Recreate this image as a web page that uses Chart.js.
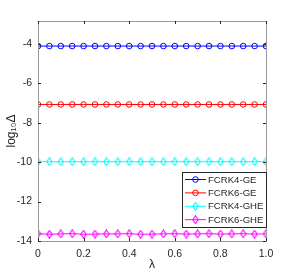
<!DOCTYPE html>
<html>
<head>
<meta charset="utf-8">
<script src="https://cdn.jsdelivr.net/npm/chart.js"></script>
<style>
  html, body { margin: 0; padding: 0; background: #fff; }
  #wrap { width: 295px; height: 276px; }
</style>
</head>
<body>
<div id="wrap"><canvas id="myChart" width="295" height="276"></canvas></div>
<script>
const lambdas = [0, 0.05, 0.1, 0.15, 0.2, 0.25, 0.3, 0.35, 0.4, 0.45, 0.5, 0.55, 0.6, 0.65, 0.7, 0.75, 0.8, 0.85, 0.9, 0.95, 1];
const rk4ge = [-4.12, -4.12, -4.12, -4.12, -4.12, -4.12, -4.12, -4.12, -4.12, -4.12, -4.12, -4.12, -4.12, -4.12, -4.12, -4.12, -4.12, -4.12, -4.12, -4.12, -4.12];
const rk6ge = [-7.08, -7.08, -7.08, -7.08, -7.08, -7.08, -7.08, -7.08, -7.08, -7.08, -7.08, -7.08, -7.08, -7.08, -7.08, -7.08, -7.08, -7.08, -7.08, -7.08, -7.08];
const rk4ghe = [-9.98, -9.98, -9.98, -9.98, -9.98, -9.98, -9.98, -9.98, -9.98, -9.98, -9.98, -9.98, -9.98, -9.98, -9.98, -9.98, -9.98, -9.98, -9.98, -9.98, -9.98];
const rk6ghe = [-13.63, -13.66, -13.64, -13.63, -13.66, -13.65, -13.64, -13.64, -13.63, -13.66, -13.65, -13.64, -13.63, -13.65, -13.64, -13.63, -13.65, -13.64, -13.63, -13.65, -13.64];
const seriesNames = ["FCRK4-GE", "FCRK6-GE", "FCRK4-GHE", "FCRK6-GHE"];
const xTicks = [0, 0.2, 0.4, 0.6, 0.8, 1];
const yTicks = [-14, -12, -10, -8, -6, -4];

const colors = ["#0000ff", "#ff0000", "#00ffff", "#ff00ff"];
const allSeries = [rk4ge, rk6ge, rk4ghe, rk6ghe];
const font = "Liberation Sans, Arial, sans-serif";

// narrow matlab-like diamond marker
const diamond = (color) => {
  const c = document.createElement("canvas");
  c.width = 7; c.height = 9;
  const g = c.getContext("2d");
  g.strokeStyle = color;
  g.lineWidth = 1.1;
  g.beginPath();
  g.moveTo(3.5, 0.7); g.lineTo(6.2, 4.5); g.lineTo(3.5, 8.3); g.lineTo(0.8, 4.5);
  g.closePath();
  g.stroke();
  return c;
};
const markers = ["circle", "circle", diamond(colors[2]), diamond(colors[3])];

const datasets = allSeries.map((vals, i) => ({
  label: seriesNames[i],
  data: vals.map((v, j) => ({ x: lambdas[j], y: v })),
  borderColor: colors[i],
  backgroundColor: "rgba(0,0,0,0)",
  borderWidth: 1,
  pointStyle: markers[i],
  pointRadius: 2.8,
  pointBorderWidth: 1,
  pointBorderColor: colors[i],
  pointBackgroundColor: "rgba(0,0,0,0)",
}));

// box, inward ticks and legend drawn on top
const boxPlugin = {
  id: "box",
  afterDraw(chart) {
    const { ctx, chartArea: a, scales } = chart;
    ctx.save();
    ctx.strokeStyle = "#9a9a9a";
    ctx.lineWidth = 1;
    ctx.strokeRect(a.left + 0.5, a.top + 0.5, a.right - a.left, a.bottom - a.top);
    ctx.strokeStyle = "#262626";
    ctx.beginPath();
    xTicks.forEach((t) => {
      const x = Math.round(scales.x.getPixelForValue(t)) + 0.5;
      ctx.moveTo(x, a.bottom); ctx.lineTo(x, a.bottom - 3);
      ctx.moveTo(x, a.top); ctx.lineTo(x, a.top + 3);
    });
    yTicks.forEach((t) => {
      const y = Math.round(scales.y.getPixelForValue(t)) + 0.5;
      ctx.moveTo(a.left, y); ctx.lineTo(a.left + 3, y);
      ctx.moveTo(a.right, y); ctx.lineTo(a.right - 3, y);
    });
    ctx.stroke();

    // legend
    const lx = 182, ly = 172, lw = 84, lh = 55;
    ctx.fillStyle = "#fff";
    ctx.fillRect(lx, ly, lw, lh);
    ctx.strokeStyle = "#262626";
    ctx.strokeRect(lx + 0.5, ly + 0.5, lw, lh);
    ctx.font = "9.6px " + font;
    ctx.textBaseline = "middle";
    seriesNames.forEach((name, i) => {
      const y = ly + 7.5 + i * 13.4;
      ctx.strokeStyle = colors[i];
      ctx.fillStyle = "rgba(0,0,0,0)";
      ctx.beginPath();
      ctx.moveTo(lx + 3, y); ctx.lineTo(lx + 24, y);
      ctx.stroke();
      Chart.helpers.drawPoint(ctx, { pointStyle: markers[i], radius: 2.8, borderWidth: 1 }, lx + 13.5, y);
      ctx.fillStyle = "#262626";
      ctx.fillText(name, lx + 26, y + 0.5);
    });
    ctx.restore();
  },
};

new Chart(document.getElementById("myChart"), {
  type: "line",
  data: { datasets },
  options: {
    responsive: false,
    animation: false,
    layout: { padding: { top: 21, right: 29, left: 0, bottom: 0 } },
    plugins: { legend: { display: false }, tooltip: { enabled: false } },
    scales: {
      x: {
        type: "linear",
        min: 0,
        max: 1,
        afterBuildTicks: (s) => { s.ticks = xTicks.map((v) => ({ value: v })); },
        afterFit: (s) => { s.height = 35; },
        grid: { display: false, drawTicks: false },
        border: { display: false },
        ticks: { color: "#262626", font: { family: font, size: 10.5 }, padding: 7, maxRotation: 0 },
        title: { display: true, text: "λ", color: "#262626", font: { family: font, size: 12 }, padding: { top: 5 } },
      },
      y: {
        type: "linear",
        min: -14,
        max: -2.85,
        afterBuildTicks: (s) => { s.ticks = yTicks.map((v) => ({ value: v })); },
        afterFit: (s) => { s.width = 38; },
        grid: { display: false, drawTicks: false },
        border: { display: false },
        ticks: { color: "#262626", font: { family: font, size: 10.5 }, padding: 6 },
        title: { display: true, text: "log₁₀Δ", color: "#262626", font: { family: font, size: 12 }, padding: { bottom: 2 } },
      },
    },
  },
  plugins: [boxPlugin],
});
</script>
</body>
</html>
